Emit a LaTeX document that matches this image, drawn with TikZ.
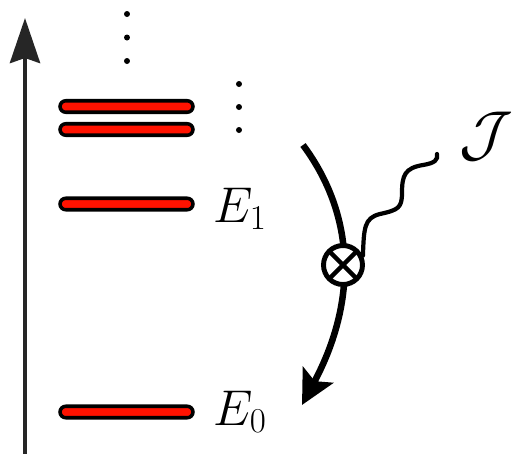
\documentclass[tikz,border=0pt]{standalone}
\usetikzlibrary{arrows.meta,shapes.misc}
\definecolor{levelred}{RGB}{255,18,0}
\begin{document}
\begin{tikzpicture}[x=0.02cm,y=-0.02cm,
  level/.style={rounded rectangle,draw=black,fill=levelred,line width=2pt,
    minimum width=2.66cm,minimum height=0.23cm,inner sep=0pt},
  dot/.style={circle,fill=black,inner sep=0pt,minimum size=0.12cm},
  elabel/.style={anchor=base west,inner sep=0pt,scale=1.15,font=\fontsize{25}{30}\selectfont},
  axis/.style={draw=black!85,line width=2.6pt,-{Stealth[length=0.9cm,width=0.6cm,inset=0.1cm]}},
  flow/.style={line width=3.7pt,-{Stealth[length=0.68cm,width=0.68cm,inset=0.14cm]}},
  vertex/.style={circle,draw,fill=white,line width=2.8pt,minimum size=0.78cm,inner sep=0pt,
    path picture={\draw[line width=2.6pt]
      (path picture bounding box.north west) -- (path picture bounding box.south east)
      (path picture bounding box.north east) -- (path picture bounding box.south west);}},
  source/.style={line width=2.4pt,line cap=round}
]
\useasboundingbox (0,0) rectangle (512,454);

% energy axis
\coordinate (axbot) at (25,460);
\coordinate (axtop) at (25,18);
\draw[axis] (axbot) -- (axtop);

% energy levels
\node[level] (l3) at (126.5,106.5) {};
\node[level] (l2) at (126.5,129.5) {};
\node[level] (l1) at (126.5,204) {};
\node[level] (l0) at (126.5,412) {};

\node[elabel] (e1) at (213,222) {$E_1$};
\node[elabel] (e0) at (213,425) {$E_0$};

% continuation dots
\node[dot] (d1) at (127,14) {};
\node[dot] (d2) at (127,37.5) {};
\node[dot] (d3) at (127,61) {};
\node[dot] (d4) at (239,84) {};
\node[dot] (d5) at (239,107) {};
\node[dot] (d6) at (239,130) {};

% flow line through the insertion vertex
\coordinate (fstart) at (303,145);
\coordinate (fend) at (302,405);
\draw[flow] (fstart) .. controls (355,215) and (358,300) .. (fend);
\node[vertex] (v) at (343,265) {};

% wavy source line
\coordinate (send) at (437,154);
\draw[source] (v.25) .. controls (364,228) and (364,218) .. (380,214)
  .. controls (398,210) and (402,208) .. (402,193)
  .. controls (402,175) and (405,168) .. (423,165)
  .. controls (435,163) and (438,160) .. (send);
\node[anchor=south west,inner sep=0pt,scale=1.42,font=\fontsize{25}{30}\selectfont] (J) at (459,161) {$\mathcal{J}$};
\end{tikzpicture}
\end{document}
